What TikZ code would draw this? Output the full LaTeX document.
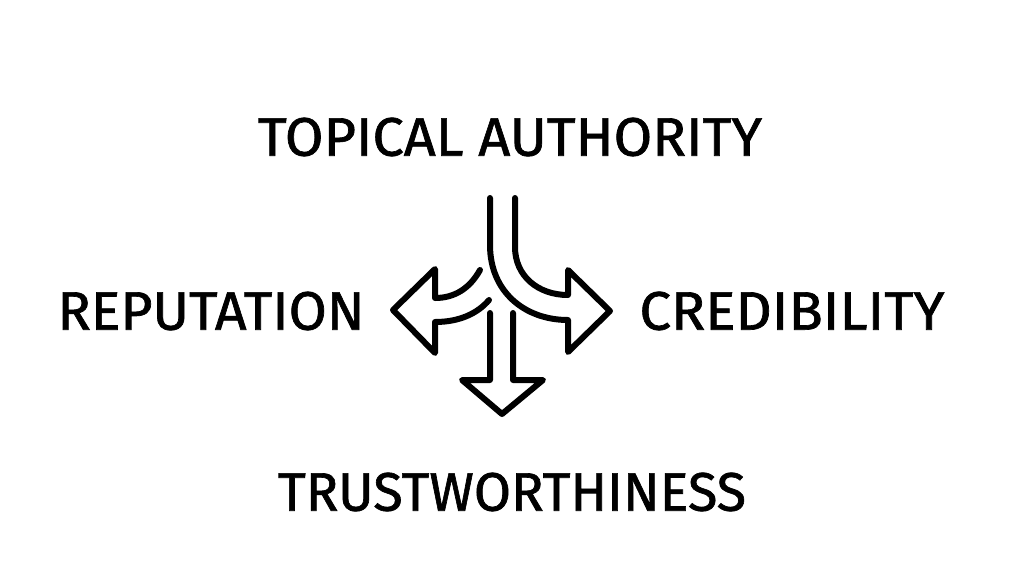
\documentclass[tikz,border=0pt]{standalone}
\usepackage{fontspec}
\setmainfont{Fira Sans}[BoldFont=Fira Sans, BoldFeatures={FakeBold=1.2}]
\usepackage{graphicx}
\usetikzlibrary{positioning}
\newcommand{\fitlabel}[2]{\resizebox{#1}{38pt}{\bfseries #2}}
\tikzset{%
	every label text/.style={
		inner sep=0pt,
		text=black
	},
	icon line/.style={
		draw=black,
		line width=6pt,
		line cap=round,
		line join=round
	},
}
\begin{document}
\begin{tikzpicture}[x=1pt, y=-1pt]
	\useasboundingbox[fill=white] (0,0) rectangle (1024,576);
	% labels
	\node[every label text] (topical) at (510,137) {\fitlabel{504pt}{TOPICAL AUTHORITY}};
	\node[every label text] (reputation) at (211,311) {\fitlabel{307pt}{REPUTATION}};
	\node[every label text] (credibility) at (792,311) {\fitlabel{305pt}{CREDIBILITY}};
	\node[every label text] (trust) at (512,492) {\fitlabel{468pt}{TRUSTWORTHINESS}};
	% main branch turning right
	\draw[icon line] (490,198) -- (490,245)
		.. controls (490,292) and (525,320) .. (568,320)
		-- (568,352) -- (610,311) -- (568,270) -- (568,295)
		.. controls (538,295) and (515,276) .. (515,247) -- (515,198);
	% branch turning left, cut behind the main one
	\draw[icon line] (480,270)
		.. controls (470,288) and (455,298) .. (435,298)
		-- (435,269) -- (393,310) -- (435,353) -- (435,322)
		.. controls (460,322) and (478,313) .. (489,300);
	% straight branch down
	\draw[icon line] (490,313) -- (490,380) -- (462,380) -- (502,414)
		-- (543,380) -- (513,380) -- (513,313);
\end{tikzpicture}
\end{document}
